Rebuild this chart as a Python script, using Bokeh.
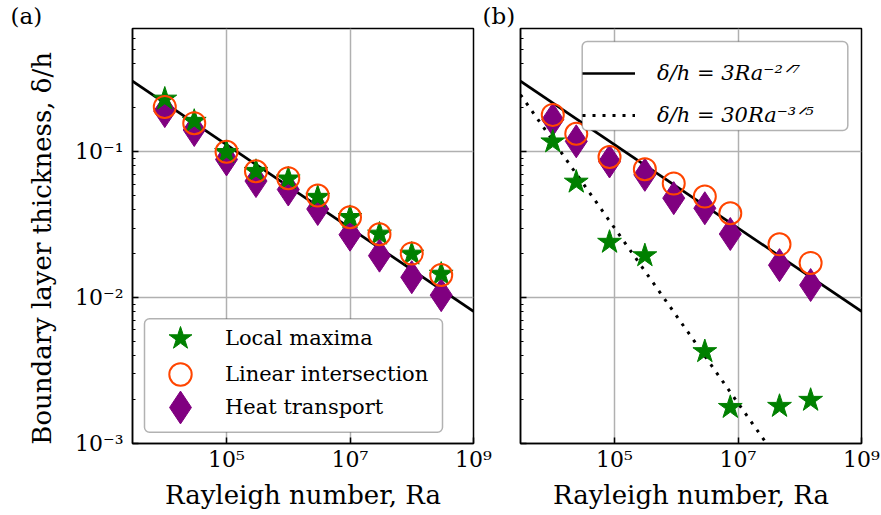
import numpy as np
from bokeh.plotting import figure
from bokeh.layouts import row
from bokeh.models import FixedTicker, Legend, LegendItem, BoxAnnotation
from bokeh.embed import file_html
from bokeh.resources import INLINE

# ---------------- data: panel (a) ----------------
ra_a = [1e4, 3e4, 1e5, 3e5, 1e6, 3e6, 1e7, 3e7, 1e8, 3e8]
local_max_a = [0.23, 0.162, 0.099, 0.0735, 0.0652, 0.0488, 0.0355, 0.0273, 0.0199, 0.0145]
lin_int_a = [0.203, 0.157, 0.100, 0.0735, 0.0659, 0.0501, 0.0356, 0.0272, 0.0201, 0.0143]
heat_a = [0.190, 0.141, 0.0886, 0.063, 0.0551, 0.0405, 0.027, 0.0194, 0.0138, 0.0104]

# ---------------- data: panel (b) ----------------
ra_b = [1e4, 2.4e4, 8.3e4, 3.1e5, 9.1e5, 2.9e6, 7.5e6, 4.7e7, 1.5e8]
lin_int_b = [0.179, 0.133, 0.092, 0.076, 0.0605, 0.0493, 0.0379, 0.0232, 0.0173]
heat_b = [0.166, 0.118, 0.0858, 0.0695, 0.0481, 0.041, 0.0273, 0.0167, 0.0122]
ra_b_max = [1e4, 2.4e4, 8.3e4, 3.1e5, 2.9e6, 7.5e6, 4.7e7, 1.5e8]
local_max_b = [0.117, 0.062, 0.024, 0.0194, 0.00427, 0.00177, 0.0018, 0.00198]

# ---------------- fit laws ----------------
fit_ra = [3e3, 1e9]
fit1_coef, fit1_exp = 3.0, -2.0 / 7.0
fit2_coef, fit2_exp = 30.0, -3.0 / 5.0
fit1 = [fit1_coef * r ** fit1_exp for r in fit_ra]
fit2 = [fit2_coef * r ** fit2_exp for r in fit_ra]

# ---------------- ticks ----------------
x_ticks = [1e5, 1e7, 1e9]
x_tick_labels = ["10⁵", "10⁷", "10⁹"]
y_ticks = [1e-3, 1e-2, 1e-1]
y_tick_labels = ["10⁻³", "10⁻²", "10⁻¹"]
y_minor = [m * 10.0 ** e for e in (-3, -2, -1) for m in range(2, 10) if m * 10.0 ** e < 0.7]

legend_labels = ["Local maxima", "Linear intersection", "Heat transport"]
fit_labels = ["δ/h = 3Ra⁻²ᐟ⁷", "δ/h = 30Ra⁻³ᐟ⁵"]
panel_labels = ["(a)", "(b)"]

FONT = "DejaVu Serif"
GREEN = "#008000"
ORANGE = "#ff4500"
PURPLE = "#800080"


def make_fig(left, right, tag, tag_offset):
    p = figure(x_axis_type="log", y_axis_type="log",
               x_range=(3e3, 1e9), y_range=(1e-3, 0.7),
               frame_width=341, frame_height=415,
               min_border_left=left, min_border_right=right,
               min_border_top=28, min_border_bottom=72,
               toolbar_location=None, output_backend="svg")
    p.title.text = tag
    p.title.align = "left"
    p.title.offset = tag_offset
    p.title.standoff = 0
    p.title.text_font = FONT
    p.title.text_font_size = "23px"
    p.title.text_font_style = "normal"
    p.title.text_color = "black"
    p.outline_line_color = "black"
    p.outline_line_width = 1.5
    p.xaxis.ticker = FixedTicker(ticks=x_ticks, minor_ticks=[])
    p.yaxis.ticker = FixedTicker(ticks=y_ticks, minor_ticks=y_minor)
    p.xaxis.major_label_overrides = dict(zip(x_ticks, x_tick_labels))
    for ax in (p.xaxis, p.yaxis):
        ax.axis_line_color = "black"
        ax.axis_line_width = 1.5
        ax.major_tick_in = 6
        ax.major_tick_out = 0
        ax.minor_tick_in = 3
        ax.minor_tick_out = 0
        ax.major_tick_line_width = 1.5
        ax.minor_tick_line_width = 1.2
        ax.major_label_text_font = FONT
        ax.major_label_text_font_size = "22px"
        ax.major_label_text_color = "black"
        ax.axis_label_text_font = FONT
        ax.axis_label_text_font_size = "26px"
        ax.axis_label_text_font_style = "normal"
        ax.axis_label_text_color = "black"
    p.xaxis.major_label_standoff = 3
    p.yaxis.major_label_standoff = 9
    p.xaxis.axis_label = "Rayleigh number, Ra"
    p.xaxis.axis_label_standoff = 5
    for g in (p.xgrid, p.ygrid):
        g.grid_line_color = "#b0b0b0"
        g.grid_line_width = 1.5
    return p


def legend_box(left, right, bottom, top):
    return BoxAnnotation(left=left, right=right, bottom=bottom, top=top,
                         left_units="screen", right_units="screen",
                         bottom_units="screen", top_units="screen",
                         fill_color="white", fill_alpha=1.0,
                         line_color="black", line_width=1.5, border_radius=5)


def single_legend(label, rend, loc, glyph, standoff):
    return Legend(items=[LegendItem(label=label, renderers=[rend])],
                  location=loc, margin=0, padding=0, spacing=0,
                  glyph_height=glyph, glyph_width=glyph, label_standoff=standoff,
                  label_height=10, label_width=10,
                  border_line_color=None, background_fill_alpha=0.0,
                  label_text_font=FONT, label_text_font_size="21px",
                  label_text_color="black")


# ---------------- panel (a) ----------------
pa = make_fig(132, 30, panel_labels[0], -122)
pa.yaxis.major_label_overrides = dict(zip(y_ticks, y_tick_labels))
pa.yaxis.axis_label = "Boundary layer thickness, δ/h" + "\u00a0" * 3
pa.yaxis.axis_label_standoff = 15
pa.line(fit_ra, fit1, line_color="black", line_width=2.7)
ra_d = pa.scatter(ra_a, heat_a, marker="diamond", size=33, fill_color=PURPLE, line_color=PURPLE)
ra_s = pa.scatter(ra_a, local_max_a, marker="star", size=25, fill_color=GREEN, line_color=GREEN)
ra_c = pa.scatter(ra_a, lin_int_a, marker="circle", size=22, fill_color=None,
                  line_color=ORANGE, line_width=2)
pa.add_layout(legend_box(12, 310, 11.3, 124.7))
pa.add_layout(single_legend(legend_labels[0], ra_s, (18, 74.7), 60, 15))
pa.add_layout(single_legend(legend_labels[1], ra_c, (20, 41), 56, 17))
pa.add_layout(single_legend(legend_labels[2], ra_d, (7, -4.7), 82, 4))

# ---------------- panel (b) ----------------
pb = make_fig(47, 20, panel_labels[1], -38)
pb.styles = {"margin-left": "-30px"}
pb.border_fill_color = None
pb.yaxis.major_label_overrides = {t: "" for t in y_ticks}
rb_l1 = pb.line(fit_ra, fit1, line_color="black", line_width=2.7)
rb_l2 = pb.line(fit_ra, fit2, line_color="black", line_width=3, line_dash="3 7")
pb.scatter(ra_b, heat_b, marker="diamond", size=33, fill_color=PURPLE, line_color=PURPLE)
pb.scatter(ra_b_max, local_max_b, marker="star", size=25, fill_color=GREEN, line_color=GREEN)
pb.scatter(ra_b, lin_int_b, marker="circle", size=22, fill_color=None,
           line_color=ORANGE, line_width=2)
pb.add_layout(legend_box(61.7, 327.3, 313, 402))
leg_b = Legend(items=[LegendItem(label=fit_labels[0], renderers=[rb_l1]),
                      LegendItem(label=fit_labels[1], renderers=[rb_l2])],
               location=(62, 313), margin=0, padding=8, spacing=12,
               glyph_height=30, glyph_width=53, label_standoff=22,
               label_width=178, label_height=20,
               border_line_color=None, background_fill_alpha=0.0,
               label_text_font=FONT, label_text_font_size="21px",
               label_text_font_style="italic", label_text_color="black")
pb.add_layout(leg_b)

layout = row(pa, pb)
open("out.html", "w").write(file_html(layout, INLINE))
